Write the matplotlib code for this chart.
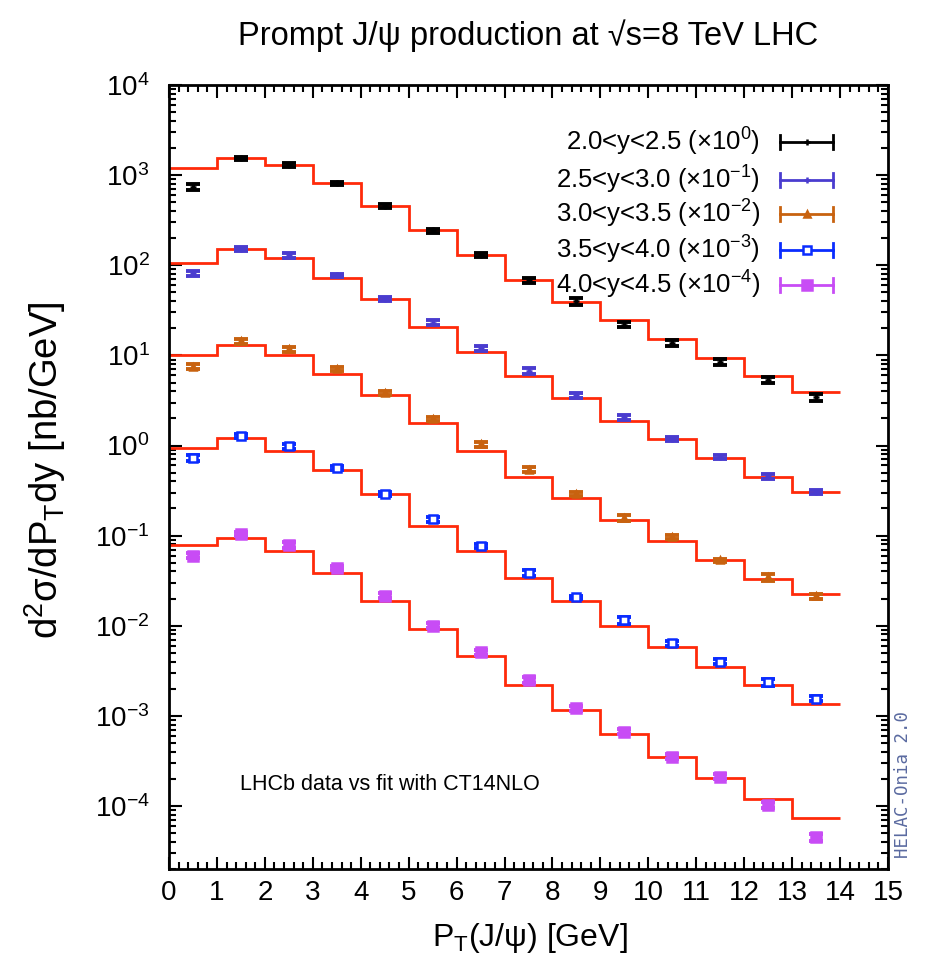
import numpy as np
import matplotlib
matplotlib.use("Agg")
import matplotlib.pyplot as plt
from matplotlib.ticker import LogLocator, FixedLocator, MultipleLocator, AutoMinorLocator, NullFormatter

plt.rcParams['font.family'] = ['Liberation Sans', 'DejaVu Sans']
plt.rcParams['mathtext.fontset'] = 'custom'
plt.rcParams['mathtext.rm'] = 'Liberation Sans'
plt.rcParams['mathtext.it'] = 'Liberation Sans:italic'
plt.rcParams['mathtext.bf'] = 'Liberation Sans:bold'

# ---------------- data ----------------
pt_edges = [0, 1, 2, 3, 4, 5, 6, 7, 8, 9, 10, 11, 12, 13, 14]

labels = ["2.0<y<2.5", "2.5<y<3.0", "3.0<y<3.5", "3.5<y<4.0", "4.0<y<4.5"]
scale_exp = [0, -1, -2, -3, -4]
y_decades = [-4, -3, -2, -1, 0, 1, 2, 3, 4]

# LHCb data (unscaled, nb/GeV)
data_y1 = [740, 1530, 1300, 809, 456, 243, 130, 68, 40, 22, 13.8, 8.5, 5.3, 3.45]
data_y2 = [810, 1530, 1290, 770, 427, 230, 120, 67, 36, 20.6, 11.9, 7.4, 4.56, 3.06]
data_y3 = [750, 1440, 1170, 700, 385, 198, 103, 54, 29, 15.7, 9.7, 5.3, 3.45, 2.12]
data_y4 = [730, 1290, 980, 565, 293, 151, 77.5, 38.5, 20.6, 11.5, 6.4, 4.0, 2.36, 1.55]
data_y5 = [600, 1040, 790, 438, 216, 100, 51, 25.1, 12.2, 6.7, 3.53, 2.12, 1.03, 0.45]

# relative uncertainties
err_y1 = [0.07, 0.05, 0.05, 0.05, 0.05, 0.05, 0.06, 0.06, 0.09, 0.07, 0.07, 0.08, 0.08, 0.09]
err_y2 = [0.07, 0.05, 0.07, 0.05, 0.05, 0.06, 0.06, 0.07, 0.06, 0.06, 0.05, 0.05, 0.06, 0.06]
err_y3 = [0.07, 0.06, 0.06, 0.05, 0.05, 0.05, 0.07, 0.07, 0.06, 0.07, 0.05, 0.05, 0.08, 0.06]
err_y4 = [0.08, 0.05, 0.07, 0.05, 0.05, 0.06, 0.05, 0.07, 0.05, 0.08, 0.06, 0.06, 0.08, 0.06]
err_y5 = [0.06, 0.05, 0.07, 0.05, 0.07, 0.06, 0.06, 0.07, 0.06, 0.07, 0.06, 0.06, 0.08, 0.08]

# CT14NLO fit (unscaled, nb/GeV), per pT bin
fit_y1 = [1190, 1530, 1290, 810, 456, 245, 129, 68, 39.5, 24.7, 15.1, 9.4, 5.9, 3.9]
fit_y2 = [1070, 1530, 1190, 730, 419, 206, 110, 59, 33.3, 18.6, 11.7, 7.3, 4.49, 3.06]
fit_y3 = [1000, 1290, 1000, 615, 360, 176, 86.5, 44.9, 26.2, 15.0, 8.65, 5.3, 3.3, 2.25]
fit_y4 = [930, 1200, 865, 532, 286, 129, 67, 34, 19, 10, 5.74, 3.53, 2.21, 1.36]
fit_y5 = [790, 940, 680, 385, 190, 93, 45.6, 22.1, 11.7, 6.3, 3.53, 2.03, 1.19, 0.73]

data_all = [data_y1, data_y2, data_y3, data_y4, data_y5]
err_all = [err_y1, err_y2, err_y3, err_y4, err_y5]
fit_all = [fit_y1, fit_y2, fit_y3, fit_y4, fit_y5]

# ---------------- style ----------------
colors = ['#000000', '#4a3ccf', '#c8620f', '#0a2cff', '#c84cf5']
markers = ['+', '+', '^', 's', 's']
mfill = [True, True, True, False, True]
msizes = [5, 5, 4, 6, 7]
fit_color = '#ff2a0a'

W, H = 938, 966
fig = plt.figure(figsize=(W / 100, H / 100), dpi=100)
L, R, T, B = 169, 888, 85, 869
ax = fig.add_axes([L / W, 1 - B / H, (R - L) / W, (B - T) / H])

edges = np.array(pt_edges, dtype=float)
centers = 0.5 * (edges[:-1] + edges[1:])

for i in range(5):
    s = 10.0 ** scale_exp[i]
    fv = np.array(fit_all[i]) * s
    ax.stairs(fv, edges, color=fit_color, lw=2.0, baseline=None, zorder=2)
    dv = np.array(data_all[i]) * s
    ev = dv * np.array(err_all[i])
    ax.errorbar(centers, dv, yerr=ev, fmt='none', ecolor=colors[i],
                elinewidth=2.2, capsize=5, capthick=2.8, zorder=3)
    ax.plot(centers, dv, ls='none', marker=markers[i], ms=msizes[i],
            color=colors[i], mec=colors[i],
            mfc=colors[i] if mfill[i] else 'white', mew=1.8, zorder=4)

ax.set_yscale('log')
ax.set_xlim(0, 15)
ax.set_ylim(2e-5, 1e4)

ax.xaxis.set_major_locator(MultipleLocator(1))
ax.xaxis.set_minor_locator(AutoMinorLocator(5))
ax.yaxis.set_major_locator(FixedLocator(10.0 ** np.array(y_decades, dtype=float)))
ax.yaxis.set_minor_locator(LogLocator(base=10, subs=np.arange(2, 10), numticks=20))
ax.yaxis.set_minor_formatter(NullFormatter())

ax.tick_params(which='both', direction='in', top=True, right=True, width=1.5, color='black')
ax.tick_params(which='major', length=9, labelsize=20)
ax.tick_params(axis='x', which='major', pad=8)
ax.tick_params(axis='y', which='major', pad=14)
ax.tick_params(which='minor', length=5)
for sp in ax.spines.values():
    sp.set_linewidth(2.0)

# titles / labels
fig.text((L + R) / 2 / W, 1 - 36 / H,
         "Prompt J/ψ production at √s=8 TeV LHC",
         ha='center', va='center', fontsize=23.5)
fig.text(530 / W, 1 - 938 / H, r"P$_{\mathrm{T}}$(J/ψ) [GeV]",
         ha='center', va='center', fontsize=23)
fig.text(45 / W, 1 - 470 / H, r"d$^{2}$σ/dP$_{\mathrm{T}}$dy [nb/GeV]",
         ha='center', va='center', rotation=90, fontsize=27.5)

ax.text((240 - L) / (R - L), (B - 785) / (B - T), "LHCb data vs fit with CT14NLO",
        transform=ax.transAxes, ha='left', va='center', fontsize=15.5)

fig.text(903 / W, 1 - 785 / H, "HELAC-Onia 2.0", rotation=90, ha='center',
         va='center', fontsize=12.5, color='#5a6aa0', family='DejaVu Sans Mono')

# legend drawn by hand
rows_py = [142, 180, 214, 250, 285]
x_txt = (760 - L) / (R - L)
x0 = (780 - L) / (R - L)
x1 = (833 - L) / (R - L)
xm = 0.5 * (x0 + x1)
for i in range(5):
    yy = (B - rows_py[i]) / (B - T)
    ax.text(x_txt, yy, labels[i] + r" ($\times$10$^{%d}$)" % scale_exp[i],
            transform=ax.transAxes, ha='right', va='center', fontsize=18.5)
    ax.plot([x0, x1], [yy, yy], transform=ax.transAxes, color=colors[i], lw=2, clip_on=False)
    ax.plot([x0, x0], [yy - 0.009, yy + 0.009], transform=ax.transAxes, color=colors[i], lw=2, clip_on=False)
    ax.plot([x1, x1], [yy - 0.009, yy + 0.009], transform=ax.transAxes, color=colors[i], lw=2, clip_on=False)
    ax.plot([xm], [yy], transform=ax.transAxes, marker=markers[i], ms=msizes[i],
            color=colors[i], mec=colors[i], mfc=colors[i] if mfill[i] else 'white',
            mew=1.8, ls='none', clip_on=False)

fig.savefig("out.png", dpi=100)
